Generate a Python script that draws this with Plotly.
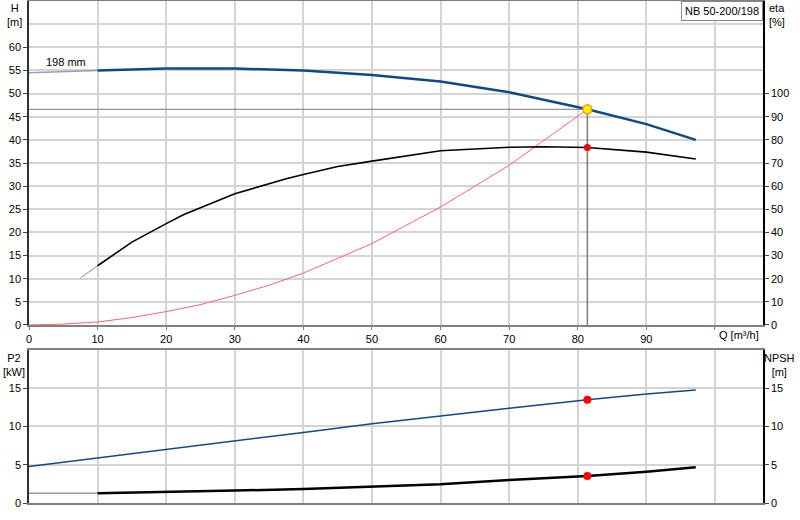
import plotly.graph_objects as go

# Head curve H [m] vs Q [m3/h]
q_head = [0, 10, 20, 30, 40, 50, 60, 70, 80, 81.4, 90, 97.2]
h_head = [54.5, 55.0, 55.4, 55.4, 55.0, 54.0, 52.6, 50.3, 47.1, 46.6, 43.4, 40.0]

# Efficiency eta [%]
q_eta = [7.5, 10, 15, 20, 22.5, 30, 37.5, 40, 45, 50, 60, 70, 75, 81.4, 90, 97.2]
eta = [20.3, 25.6, 35.8, 43.8, 47.6, 56.7, 63.2, 65.0, 68.5, 70.8, 75.3, 76.8, 77.0, 76.7, 74.7, 71.7]

# System curve
q_sys = [0, 5, 10, 15, 20, 25, 30, 35, 40, 50, 60, 70, 81.4]
h_sys = [0, 0.2, 0.65, 1.6, 2.9, 4.4, 6.4, 8.6, 11.2, 17.6, 25.5, 34.5, 46.6]

# Power P2 [kW]
q_p2 = [0, 10, 20, 30, 40, 50, 60, 70, 81.4, 90, 97.2]
p2 = [4.76, 5.86, 6.95, 8.05, 9.23, 10.37, 11.4, 12.4, 13.5, 14.25, 14.77]

# NPSH [m]
q_npsh = [0, 10, 20, 30, 40, 50, 60, 70, 81.4, 90, 97.2]
npsh = [1.27, 1.27, 1.40, 1.62, 1.84, 2.14, 2.45, 3.0, 3.54, 4.1, 4.68]

# duty point
q_duty = 81.4
h_duty = 46.6
eta_duty = 76.7
p2_duty = 13.5
npsh_duty = 3.54

x_ticks = [0, 10, 20, 30, 40, 50, 60, 70, 80, 90, 100]
x_labels = ['0', '10', '20', '30', '40', '50', '60', '70', '80', '90', '']
h_ticks = [0, 5, 10, 15, 20, 25, 30, 35, 40, 45, 50, 55, 60]
eta_ticks = [0, 10, 20, 30, 40, 50, 60, 70, 80, 90, 100]
low_ticks = [0, 5, 10, 15]

NAVY = '#0d4a8a'
GRID = '#d4d4d4'
FONT = dict(family='Liberation Sans, Arial', size=11, color='#000000')

fig = go.Figure()

# top panel
fig.add_trace(go.Scatter(x=[0, q_duty], y=[h_duty, h_duty], mode='lines',
                         line=dict(color='#7a7a7a', width=1), xaxis='x', yaxis='y'))
fig.add_trace(go.Scatter(x=[q_duty, q_duty], y=[h_duty, 0], mode='lines',
                         line=dict(color='#7a7a7a', width=1.5), xaxis='x', yaxis='y'))
fig.add_trace(go.Scatter(x=q_sys, y=h_sys, mode='lines',
                         line=dict(color='#ff6666', width=1), xaxis='x', yaxis='y'))
fig.add_trace(go.Scatter(x=q_head[:2], y=h_head[:2], mode='lines',
                         line=dict(color='#8ea2bd', width=1.5), xaxis='x', yaxis='y'))
fig.add_trace(go.Scatter(x=q_head[1:], y=h_head[1:], mode='lines',
                         line=dict(color=NAVY, width=2.5), xaxis='x', yaxis='y'))
fig.add_trace(go.Scatter(x=q_eta[:2], y=eta[:2], mode='lines',
                         line=dict(color='#8a8a8a', width=1), xaxis='x', yaxis='y2'))
fig.add_trace(go.Scatter(x=q_eta[1:], y=eta[1:], mode='lines',
                         line=dict(color='#000000', width=1.6), xaxis='x', yaxis='y2'))
fig.add_trace(go.Scatter(x=[q_duty], y=[eta_duty], mode='markers',
                         marker=dict(color='#ff0000', size=7), xaxis='x', yaxis='y2'))
fig.add_trace(go.Scatter(x=[q_duty], y=[h_duty], mode='markers',
                         marker=dict(color='#ffee00', size=9, line=dict(color='#ff9900', width=1.5)),
                         xaxis='x', yaxis='y'))

# bottom panel
fig.add_trace(go.Scatter(x=q_p2, y=p2, mode='lines',
                         line=dict(color=NAVY, width=1.5), xaxis='x2', yaxis='y3'))
fig.add_trace(go.Scatter(x=q_npsh[:2], y=npsh[:2], mode='lines',
                         line=dict(color='#9a9a9a', width=1.5), xaxis='x2', yaxis='y4'))
fig.add_trace(go.Scatter(x=q_npsh[1:], y=npsh[1:], mode='lines',
                         line=dict(color='#000000', width=2.5), xaxis='x2', yaxis='y4'))
fig.add_trace(go.Scatter(x=[q_duty, q_duty], y=[p2_duty, npsh_duty], mode='markers',
                         marker=dict(color='#ff0000', size=8), xaxis='x2', yaxis='y4'))

fig.update_layout(
    width=800, height=520,
    margin=dict(l=29, r=37, t=1, b=17, autoexpand=False),
    plot_bgcolor='white', paper_bgcolor='white',
    showlegend=False,
    font=FONT,
    xaxis=dict(domain=[0, 1], anchor='y', range=[0, 107], tickvals=x_ticks, ticktext=x_labels,
               showgrid=True, gridcolor=GRID, gridwidth=1.5, showline=True, linecolor='#808080',
               linewidth=2, mirror=True, ticks='outside', ticklen=3, tickcolor='#808080',
               zeroline=False, automargin=False),
    yaxis=dict(domain=[0.3546, 1], anchor='x', range=[0, 70], tickvals=h_ticks,
               showgrid=True, gridcolor=GRID, gridwidth=1.5, showline=True, linecolor='#303030',
               linewidth=1.5, ticks='outside', ticklen=4, zeroline=False, automargin=False,
               minor=dict(tickvals=[65], showgrid=True, gridcolor=GRID, gridwidth=1.5, ticklen=0)),
    yaxis2=dict(overlaying='y', side='right', anchor='x', range=[0, 140], tickvals=eta_ticks,
                showgrid=False, showline=True, linecolor='#000000', linewidth=1.5,
                ticks='outside', ticklen=4, zeroline=False, automargin=False),
    xaxis2=dict(domain=[0, 1], anchor='y3', range=[0, 107], tickvals=x_ticks, showticklabels=False,
                showgrid=True, gridcolor=GRID, gridwidth=1.5, showline=True, linecolor='#808080',
                linewidth=2, mirror=True, zeroline=False, automargin=False),
    yaxis3=dict(domain=[0, 0.3048], anchor='x2', range=[0, 20], tickvals=low_ticks,
                showgrid=True, gridcolor=GRID, gridwidth=1.5, showline=True, linecolor='#303030',
                linewidth=1.5, ticks='outside', ticklen=4, zeroline=False, automargin=False),
    yaxis4=dict(overlaying='y3', side='right', anchor='x2', range=[0, 20], tickvals=low_ticks,
                showgrid=False, showline=True, linecolor='#000000', linewidth=1.5,
                ticks='outside', ticklen=4, zeroline=False, automargin=False),
)

fig.add_annotation(x=5.4, y=56.8, xref='x', yref='y', text='198 mm', showarrow=False, font=FONT)
fig.add_annotation(x=103.5, y=0.334, xref='x', yref='paper', text='Q [m³/h]', showarrow=False,
                   font=FONT, yanchor='middle')
fig.add_annotation(x=1, y=1, xref='paper', yref='paper', xanchor='right', yanchor='top',
                   text='NB 50-200/198', showarrow=False, font=FONT, bgcolor='white',
                   bordercolor='#8a8a8a', borderwidth=1, borderpad=3)
fig.add_annotation(x=-0.02, y=1.002, xref='paper', yref='paper', xanchor='center', yanchor='top',
                   text='H<br>[m]', showarrow=False, font=FONT)
fig.add_annotation(x=1.005, y=1.002, xref='paper', yref='paper', xanchor='left', yanchor='top',
                   text='eta<br>[%]', showarrow=False, font=FONT, align='left')
fig.add_annotation(x=-0.02, y=0.305, xref='paper', yref='paper', xanchor='center', yanchor='top',
                   text='P2<br>[kW]', showarrow=False, font=FONT)
fig.add_annotation(x=1.023, y=0.305, xref='paper', yref='paper', xanchor='center', yanchor='top',
                   text='NPSH<br>[m]', showarrow=False, font=FONT)

# page has a default body margin, drop it so the figure sits at the corner
fig.write_html("out.html", config={'displayModeBar': False},
               post_script="document.body.style.margin='0';")
